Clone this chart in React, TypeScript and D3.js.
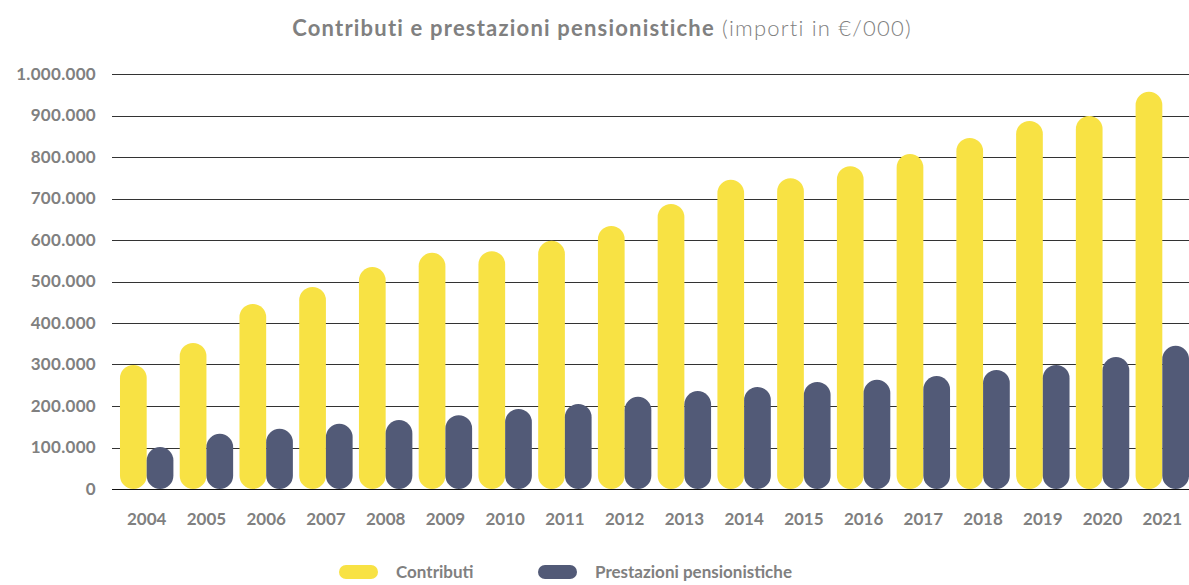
import React, { useRef, useEffect } from 'react';
import { select, scaleBand, scaleLinear, axisLeft, axisBottom, format } from 'd3';

const years = [
  '2004', '2005', '2006', '2007', '2008', '2009', '2010', '2011', '2012',
  '2013', '2014', '2015', '2016', '2017', '2018', '2019', '2020', '2021',
];
const contributi = [
  299000, 352000, 446000, 487000, 535000, 569000, 573000, 598000, 634000,
  687000, 745000, 749000, 778000, 807000, 846000, 887000, 899000, 957000,
];
const prestazioni = [
  101000, 133000, 145000, 157000, 166000, 178000, 193000, 205000, 222000,
  236000, 246000, 258000, 263000, 272000, 287000, 299000, 318000, 345000,
];
const yTicks = [0, 100000, 200000, 300000, 400000, 500000, 600000, 700000, 800000, 900000, 1000000];
const seriesNames = ['Contributi', 'Prestazioni pensionistiche'];

const W = 1189;
const H = 585;
const YELLOW = '#f8e244';
const NAVY = '#525a77';
const GREY = '#808080';
const FONT = 'Lato, "Open Sans", sans-serif';

const App = () => {
  const svgRef = useRef(null);

  useEffect(() => {
    const svg = select(svgRef.current);
    svg.selectAll('*').remove();

    const x = scaleBand().domain(years).range([117, 1192]).paddingInner(0.106).paddingOuter(0.05);
    const x1 = scaleBand().domain(['c', 'p']).range([0, x.bandwidth()]);
    const y = scaleLinear().domain([0, 1000000]).range([489, 74]);

    // thousand separators with dots (Italian style)
    const fmt = (d) => format(',')(d).replace(/,/g, '.');

    // gridlines
    svg
      .append('g')
      .selectAll('line')
      .data(yTicks)
      .join('line')
      .attr('x1', 112)
      .attr('x2', W)
      .attr('y1', (d) => Math.round(y(d)) + 0.5)
      .attr('y2', (d) => Math.round(y(d)) + 0.5)
      .attr('stroke', (d) => (d === 0 ? '#111' : '#333'))
      .attr('stroke-width', 1);

    // y axis labels
    const yAxis = axisLeft(y).tickValues(yTicks).tickSize(0).tickPadding(0)
      // @ts-ignore
      .tickFormat(fmt);
    const gy = svg.append('g').attr('transform', 'translate(96,0)').call(yAxis);
    gy.select('.domain').remove();
    gy.selectAll('text')
      .attr('fill', GREY)
      .attr('font-family', FONT)
      .attr('font-weight', 'bold')
      .attr('font-size', 17)
      .attr('letter-spacing', 0.3);

    // x axis labels
    const xAxis = axisBottom(x).tickSize(0).tickPadding(0);
    const gx = svg.append('g').attr('transform', 'translate(0,513)').call(xAxis);
    gx.select('.domain').remove();
    gx.selectAll('text')
      .attr('fill', GREY)
      .attr('font-family', FONT)
      .attr('font-weight', 'bold')
      .attr('font-size', 17);

    // pill shaped bars, one pair per year
    const groups = svg
      .append('g')
      .selectAll('g')
      .data(years)
      .join('g')
      .attr('transform', (d) => `translate(${x(d)},0)`);

    groups.each(function (d, i) {
      const g = select(this);
      g.append('rect')
        .attr('x', x1('c'))
        .attr('width', x1.bandwidth())
        .attr('y', y(contributi[i]))
        .attr('height', y(0) - y(contributi[i]))
        .attr('rx', x1.bandwidth() / 2)
        .attr('fill', YELLOW);
      g.append('rect')
        .attr('x', x1('p'))
        .attr('width', x1.bandwidth())
        .attr('y', y(prestazioni[i]))
        .attr('height', y(0) - y(prestazioni[i]))
        .attr('rx', x1.bandwidth() / 2)
        .attr('fill', NAVY);
    });

    // title
    const title = svg
      .append('text')
      .attr('x', 602)
      .attr('y', 36)
      .attr('text-anchor', 'middle')
      .attr('font-family', FONT)
      .attr('font-size', 22)
      .attr('letter-spacing', 1.2)
      .attr('fill', GREY);
    title.append('tspan').attr('font-weight', 'bold').text('Contributi e prestazioni pensionistiche');
    title.append('tspan').attr('font-weight', 300).text(' (importi in €/000)');

    // legend
    const legendX = [339, 538];
    const legendColors = [YELLOW, NAVY];
    const lg = svg
      .append('g')
      .selectAll('g')
      .data(seriesNames)
      .join('g')
      .attr('transform', (d, i) => `translate(${legendX[i]},572)`);
    lg.append('rect')
      .attr('x', 0)
      .attr('y', -7)
      .attr('width', 39)
      .attr('height', 14)
      .attr('rx', 7)
      .attr('fill', (d, i) => legendColors[i]);
    lg.append('text')
      .attr('x', 57)
      .attr('dy', '0.35em')
      .attr('font-family', FONT)
      .attr('font-weight', 'bold')
      .attr('font-size', 17)
      .attr('fill', GREY)
      .text((d) => d);
  }, []);

  return (
    <svg
      ref={svgRef}
      width={W}
      height={H}
      style={{ position: 'absolute', left: 0, top: 0, background: '#fff' }}
    />
  );
};

export default App;
